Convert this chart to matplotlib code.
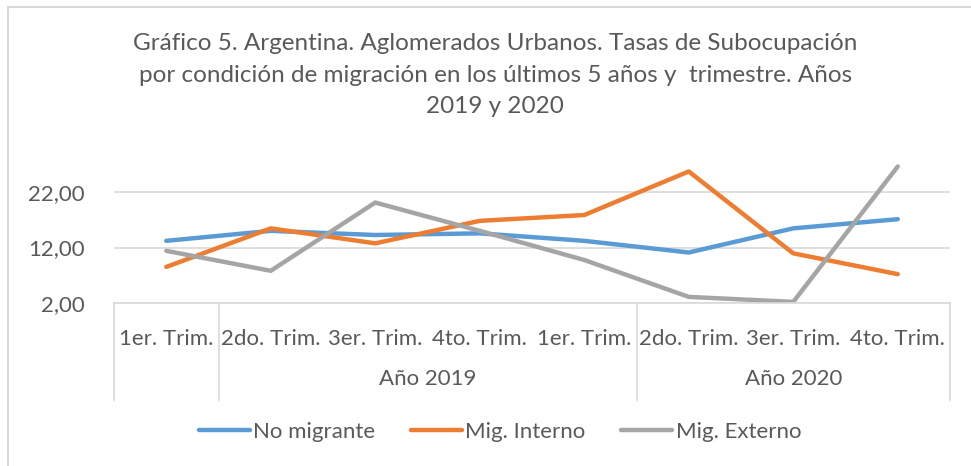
import matplotlib.pyplot as plt
from matplotlib.lines import Line2D

plt.rcParams['font.family'] = ['Lato', 'DejaVu Sans']

trimestres = ['1er. Trim.', '2do. Trim.', '3er. Trim.', '4to. Trim.',
              '1er. Trim.', '2do. Trim.', '3er. Trim.', '4to. Trim.']
grupos = ['', 'Año 2019', 'Año 2020']
grupo_tam = [1, 4, 3]

no_migrante = [13.2, 15.0, 14.25, 14.55, 13.2, 11.1, 15.45, 17.1]
mig_interno = [8.5, 15.45, 12.75, 16.8, 17.85, 25.7, 10.95, 7.2]
mig_externo = [11.4, 7.8, 20.1, 15.0, 9.75, 3.1, 2.2, 26.6]

TXT = '#595959'
GRID = '#D9D9D9'
FS = 16

W, H = 971, 466
fig = plt.figure(figsize=(W / 100, H / 100), dpi=100)

x0, x1 = 114, 950
y_bot, y_top = 303, 158.7
ax = fig.add_axes([x0 / W, 1 - y_bot / H, (x1 - x0) / W, (y_bot - y_top) / H])

x = list(range(len(trimestres)))
ax.plot(x, no_migrante, color='#5B9BD5', lw=3.2, solid_capstyle='round', label='No migrante')
ax.plot(x, mig_interno, color='#ED7D31', lw=3.2, solid_capstyle='round', label='Mig. Interno')
ax.plot(x, mig_externo, color='#A5A5A5', lw=3.2, solid_capstyle='round', label='Mig. Externo')

ax.set_xlim(-0.5, len(x) - 0.5)
ax.set_ylim(2, 28)
ax.set_yticks([2, 12, 22])
ax.set_yticklabels(['2,00', '12,00', '22,00'])
ax.yaxis.grid(True, color=GRID, lw=1.2)
ax.set_axisbelow(True)
for s in ['top', 'right', 'left']:
    ax.spines[s].set_visible(False)
ax.spines['bottom'].set_color(GRID)
ax.spines['bottom'].set_linewidth(1.2)
ax.tick_params(axis='y', length=0, pad=21, labelsize=FS, labelcolor=TXT)
ax.set_xticks([])

# category labels (two levels)
span = y_bot - y_top
def ay(py):
    return (y_bot - py) / span

trans = ax.get_xaxis_transform()
for i, t in enumerate(trimestres):
    ax.text(i, ay(339), t, transform=trans, ha='center', va='center',
            fontsize=FS, color=TXT)

bounds = [-0.5]
for n in grupo_tam:
    bounds.append(bounds[-1] + n)
for g, a, b in zip(grupos, bounds[:-1], bounds[1:]):
    ax.text((a + b) / 2, ay(379), g, transform=trans, ha='center', va='center',
            fontsize=FS, color=TXT)
for b in bounds:
    ax.plot([b, b], [0, ay(400)], transform=trans, color=GRID, lw=1.2, clip_on=False)

fig.suptitle('Gráfico 5. Argentina. Aglomerados Urbanos. Tasas de Subocupación\n'
             'por condición de migración en los últimos 5 años y  trimestre. Años\n'
             '2019 y 2020',
             x=0.51, y=1 - 33 / H, va='top', fontsize=17.5, color=TXT, linespacing=1.62)

handles = [Line2D([], [], color=c, lw=3.2, solid_capstyle='round')
           for c in ['#5B9BD5', '#ED7D31', '#A5A5A5']]
leg = fig.legend(handles, ['No migrante', 'Mig. Interno', 'Mig. Externo'],
                 loc='center', bbox_to_anchor=(0.515, 1 - 432 / H), ncol=3,
                 frameon=False, fontsize=FS, handlelength=2.3,
                 handletextpad=0.15, columnspacing=1.6)
for t in leg.get_texts():
    t.set_color(TXT)

# chart border
fig.add_artist(Line2D([8 / W, 8 / W], [0, 1 - 7 / H], color=GRID, lw=1.5))
fig.add_artist(Line2D([8 / W, 970 / W], [1 - 7 / H, 1 - 7 / H], color=GRID, lw=1.5))

fig.savefig('out.png', dpi=100)
